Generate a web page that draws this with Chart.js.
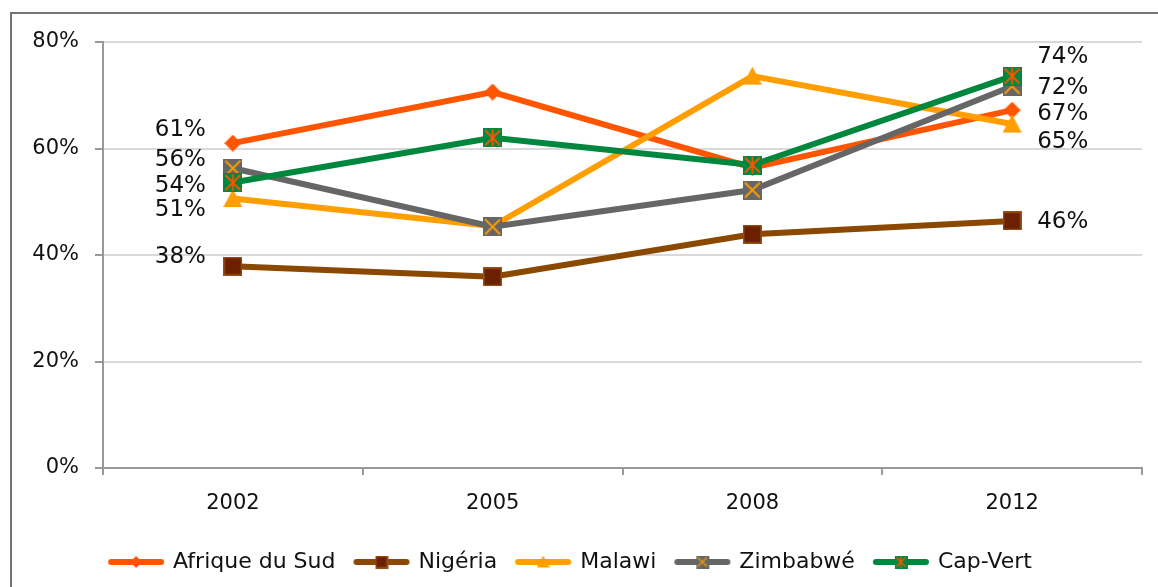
<!DOCTYPE html>
<html>
<head>
<meta charset="utf-8">
<script src="https://cdn.jsdelivr.net/npm/chart.js@4.4.1/dist/chart.umd.min.js"></script>
<style>
  html, body { margin: 0; padding: 0; background: #fff; }
  #wrap { position: relative; width: 1158px; height: 587px; overflow: hidden; }
  #frame { position: absolute; left: 10px; top: 12px; width: 1300px; height: 700px;
           border-left: 2px solid #747474; border-top: 2px solid #747474; }
  canvas { position: absolute; left: 0; top: 0; }
</style>
</head>
<body>
<div id="wrap">
  <div id="frame"></div>
  <canvas id="graf" width="1158" height="587"></canvas>
</div>
<script>
// donnees
const annees = ['2002', '2005', '2008', '2012'];
const pays = ['Afrique du Sud', 'Nigéria', 'Malawi', 'Zimbabwé', 'Cap-Vert'];
const afriqueSud = [61.0, 70.6, 56.4, 67.2];
const nigeria = [37.9, 35.9, 43.9, 46.4];
const malawi = [50.6, 45.4, 73.6, 64.6];
const zimbabwe = [56.3, 45.3, 52.2, 71.7];
const capVert = [53.6, 62.0, 56.9, 73.6];
const ticksY = [0, 20, 40, 60, 80];

const couleurs = ['#FF5500', '#8A4800', '#FF9E00', '#666666', '#00873E'];
// decalage vertical des etiquettes (gauche = 2002, droite = 2012)
const decalGauche = [-13, -9, 11, -8, 3];
const decalDroite = [4, 1, 18, 2, -19];

function marqueur(type, t)
{
  const c = document.createElement('canvas');
  c.width = t; c.height = t;
  const ctx = c.getContext('2d');
  if (type === 'losange') {
    ctx.fillStyle = '#FF5500';
    ctx.beginPath();
    ctx.moveTo(t/2, 0); ctx.lineTo(t, t/2); ctx.lineTo(t/2, t); ctx.lineTo(0, t/2);
    ctx.closePath(); ctx.fill();
  } else if (type === 'carre') {
    ctx.fillStyle = '#9A5212';
    ctx.fillRect(0, 0, t, t);
    ctx.fillStyle = '#6B2000';
    ctx.fillRect(1.5, 1.5, t-3, t-3);
  } else if (type === 'triangle') {
    ctx.fillStyle = '#FF9E00';
    ctx.beginPath();
    ctx.moveTo(t/2, 0); ctx.lineTo(t, t-1); ctx.lineTo(0, t-1);
    ctx.closePath(); ctx.fill();
  } else if (type === 'croix' || type === 'etoile') {
    ctx.fillStyle = type === 'croix' ? '#666666' : '#00873E';
    ctx.fillRect(0, 0, t, t);
    ctx.strokeStyle = type === 'croix' ? '#FF9E00' : '#FF5500';
    ctx.lineWidth = t > 14 ? 1.8 : 1.3;
    ctx.beginPath();
    ctx.moveTo(2, 2); ctx.lineTo(t-2, t-2);
    ctx.moveTo(t-2, 2); ctx.lineTo(2, t-2);
    if (type === 'etoile') { ctx.moveTo(t/2, 1); ctx.lineTo(t/2, t-1); }
    ctx.stroke();
  }
  return c;
}

function symboleLegende(type, couleur)
{
  const c = document.createElement('canvas');
  c.width = 58; c.height = 18;
  const ctx = c.getContext('2d');
  ctx.strokeStyle = couleur;
  ctx.lineWidth = 6;
  ctx.lineCap = 'round';
  ctx.beginPath(); ctx.moveTo(4, 9); ctx.lineTo(54, 9); ctx.stroke();
  const t = type === 'losange' ? 12 : 13;
  ctx.drawImage(marqueur(type, t), 29 - t/2, 9 - t/2);
  return c;
}

const types = ['losange', 'carre', 'triangle', 'croix', 'etoile'];
const tailles = [17, 19, 19, 19, 19];
const valeurs = [afriqueSud, nigeria, malawi, zimbabwe, capVert];

const police = "'DejaVu Sans', sans-serif";

const etiquettes = {
  id: 'etiquettes',
  afterDatasetsDraw(chart) {
    const ctx = chart.ctx;
    ctx.save();
    ctx.font = '23px ' + police;
    ctx.fillStyle = '#111';
    ctx.textBaseline = 'middle';
    chart.data.datasets.forEach((ds, i) => {
      const meta = chart.getDatasetMeta(i);
      const p0 = meta.data[0], p3 = meta.data[3];
      ctx.textAlign = 'right';
      ctx.fillText(Math.round(ds.data[0]) + '%', p0.x - 27, p0.y + decalGauche[i]);
      ctx.textAlign = 'left';
      ctx.fillText(Math.round(ds.data[3]) + '%', p3.x + 25, p3.y + decalDroite[i]);
    });
    ctx.restore();
  }
};

const grafico = document.getElementById('graf');
new Chart(grafico, {
  type: 'line',
  data: {
    labels: annees,
    datasets: pays.map((nom, i) => ({
      label: nom,
      data: valeurs[i],
      borderColor: couleurs[i],
      backgroundColor: couleurs[i],
      borderWidth: 6,
      tension: 0,
      pointStyle: marqueur(types[i], tailles[i]),
      pointRadius: 9,
      order: 5 - i,
      symbole: symboleLegende(types[i], couleurs[i])
    }))
  },
  options: {
    responsive: false,
    animation: false,
    devicePixelRatio: 1,
    layout: { padding: { top: 42, right: 16, left: 0, bottom: 4 } },
    scales: {
      x: {
        offset: true,
        grid: { offset: true, drawOnChartArea: false, color: '#999', tickLength: 7, lineWidth: 2 },
        border: { color: '#999', width: 2 },
        ticks: { color: '#111', font: { family: police, size: 21 }, padding: 16 },
        afterFit(s) { s.height = 63; }
      },
      y: {
        min: 0, max: 80,
        afterBuildTicks(s) { s.ticks = ticksY.map(v => ({ value: v })); },
        grid: { color: '#d9d9d9', lineWidth: 2, tickColor: '#999', tickLength: 8 },
        border: { color: '#999', width: 2 },
        ticks: { color: '#111', font: { family: police, size: 21 }, padding: 16,
                 callback: v => v + '%' },
        afterFit(s) { s.width = 103; }
      }
    },
    plugins: {
      tooltip: { enabled: false },
      legend: {
        position: 'bottom',
        labels: {
          color: '#111',
          font: { family: police, size: 22 },
          usePointStyle: true,
          pointStyleWidth: 52,
          padding: 20,
          generateLabels(chart) {
            return chart.data.datasets.map((ds, i) => ({
              text: ds.label,
              pointStyle: ds.symbole,
              fillStyle: ds.borderColor,
              strokeStyle: ds.borderColor,
              lineWidth: 0,
              fontColor: '#111',
              hidden: false,
              datasetIndex: i
            }));
          }
        }
      }
    }
  },
  plugins: [etiquettes]
});
</script>
</body>
</html>
